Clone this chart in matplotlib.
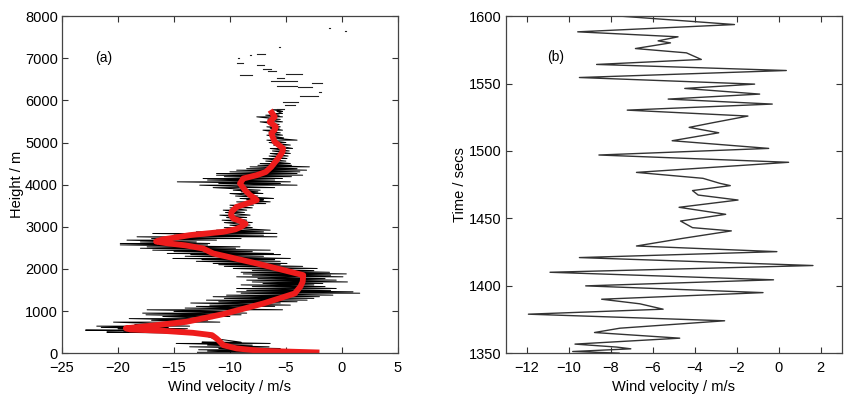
import numpy as np
import matplotlib.pyplot as plt

plt.rcParams['font.family'] = ['Liberation Sans', 'DejaVu Sans']

# (a) raw sounding: for each height row, left and right extent of the spike
row_h = [20, 50, 80, 110, 150, 190, 230, 260, 350, 440, 480,
         500, 530, 546, 580, 610, 641, 680, 736, 780, 820, 870, 910, 950, 990,
         1029, 1070, 1110, 1140, 1190, 1220, 1258, 1300, 1340, 1377, 1423, 1456,
         1490, 1535, 1580, 1620, 1654, 1690, 1733, 1770, 1812, 1850, 1881, 1920,
         1960, 2010, 2060, 2100, 2129, 2180, 2220, 2248, 2300, 2340, 2367, 2410,
         2445, 2490, 2524, 2570, 2604, 2640, 2683, 2720, 2762, 2800, 2841, 2880,
         2920, 2980, 3039, 3100, 3157, 3220, 3276, 3340, 3395, 3450, 3513, 3550,
         3592, 3640, 3672, 3730, 3790, 3830, 3869, 3930, 3988, 4030, 4067, 4110,
         4146, 4190, 4225, 4265, 4304, 4344, 4380, 4423, 4460, 4502, 4560, 4620,
         4680, 4741, 4800, 4860, 4940, 5000, 5057, 5110, 5175, 5230, 5294, 5340,
         5373, 5430, 5491, 5550, 5610, 5650, 5689, 5740, 5780]
row_left = [-12.9, -12.0, -12.8, -11.0, -13.6, -12.0, -14.8, -12.5, -11.5, -12.5, -16.0,
            -21.0, -19.5, -22.9, -20.0, -21.5, -21.9, -18.5, -20.4, -17.0, -19.0, -16.0, -17.5, -17.8, -15.0,
            -17.4, -14.0, -13.0, -11.8, -13.5, -11.0, -12.1, -10.5, -11.5, -10.3, -9.0, -9.4,
            -8.5, -9.4, -8.0, -9.0, -7.05, -8.0, -8.5, -7.5, -9.4, -8.0, -8.8, -9.0,
            -8.0, -9.7, -10.5, -11.0, -11.5, -13.0, -12.5, -15.1, -14.0, -13.5, -15.6, -15.0,
            -16.9, -18.0, -17.4, -19.8, -19.8, -18.0, -19.2, -17.0, -18.3, -15.0, -16.9, -13.0,
            -11.2, -10.5, -10.0, -10.5, -10.7, -10.3, -10.9, -10.4, -10.6, -10.0, -10.0, -9.0,
            -9.4, -8.5, -9.1, -9.5, -10.0, -9.0, -9.7, -11.5, -12.7, -11.0, -14.7, -12.0,
            -12.4, -10.5, -11.2, -11.2, -10.0, -9.4, -8.5, -8.2, -7.5, -7.3, -6.8, -7.05,
            -6.5, -6.4, -6.2, -6.4, -6.1, -6.5, -6.7, -6.3, -6.7, -6.5, -7.05, -6.4,
            -6.7, -6.5, -7.3, -6.6, -7.6, -6.8, -6.4, -5.8, -6.2]
row_right = [-7.9, -4.6, -6.0, -5.5, -6.5, -8.0, -6.4, -9.0, -11.5, -12.5, -16.0,
             -15.0, -14.5, -14.0, -13.8, -15.5, -13.6, -14.5, -10.9, -12.0, -11.5, -10.0, -9.0, -8.5, -9.5,
             -5.3, -8.0, -6.0, -4.6, -5.5, -4.0, -3.1, -2.5, -2.0, -0.8, 1.6, 1.0,
             -1.0, -0.5, -1.5, -2.5, -1.7, 0.5, -0.5, -1.5, 0.1, -1.0, 0.4, -1.1,
             -2.5, -2.2, -3.5, -5.5, -4.9, -5.5, -6.0, -4.6, -7.0, -5.5, -6.1, -8.0,
             -6.4, -9.5, -9.1, -12.0, -11.8, -13.0, -11.2, -9.0, -5.8, -7.0, -5.8, -7.0,
             -6.4, -8.0, -8.2, -8.0, -8.5, -8.5, -8.2, -8.7, -8.5, -8.0, -7.9, -6.8,
             -6.4, -7.0, -6.1, -7.5, -7.05, -7.5, -7.3, -6.0, -4.0, -5.5, -4.6, -6.0,
             -5.3, -4.5, -3.5, -4.0, -3.75, -3.15, -4.0, -2.9, -4.5, -4.6, -5.0, -4.9,
             -4.8, -4.6, -4.7, -4.4, -4.6, -5.0, -4.0, -5.2, -5.3, -5.5, -5.3, -5.6,
             -5.5, -5.6, -5.3, -5.5, -5.3, -5.6, -5.3, -5.3, -5.5]

# sparse readings above ~5800 m (short dashes)
dash_h = [5800, 5880, 5959, 6101, 6196, 6315, 6354, 6402, 6457, 6535, 6592,
          6616, 6695, 6735, 6830, 6892, 6996, 7067, 7106, 7272, 7660, 7723]
dash_left = [-5.8, -5.1, -5.3, -3.75, -2.0, -3.9, -5.8, -2.7, -6.3, -5.8, -9.1,
             -5.0, -6.6, -7.05, -7.6, -9.4, -9.25, -8.25, -7.56, -5.65, 0.28, -1.12]
dash_right = [-5.2, -4.2, -3.9, -2.1, -1.9, -2.7, -4.05, -1.8, -4.05, -5.2, -8.0,
              -3.6, -5.9, -6.3, -7.0, -8.8, -9.15, -8.15, -6.88, -5.55, 0.38, -1.02]

# (a) smoothed profile
red_h = [15, 55, 111, 190, 300, 348, 427, 482, 530, 562, 590, 641, 743, 926,
         1180, 1417, 1580, 1693, 1852, 1930, 2129, 2367, 2485, 2560, 2604, 2650,
         2700, 2740, 2801, 2880, 2940, 2999, 3070, 3118, 3197, 3280, 3355, 3473,
         3560, 3632, 3700, 3751, 3870, 4028, 4147, 4226, 4300, 4423, 4622, 4780,
         4860, 5016, 5215, 5300, 5373, 5491, 5610, 5728, 5770]
red_v = [-2.0, -7.3, -9.4, -10.6, -11.0, -11.2, -11.6, -13.3, -16.0, -18.9, -19.3,
         -17.4, -13.9, -10.6, -7.0, -4.2, -3.7, -3.5, -3.45, -4.6, -7.6, -11.5,
         -12.4, -14.0, -15.5, -16.6, -16.0, -15.0, -13.6, -10.6, -9.5, -9.0, -8.6,
         -8.9, -9.7, -9.9, -9.85, -9.4, -8.4, -7.6, -7.9, -8.2, -8.65, -9.1, -8.8,
         -7.6, -6.8, -6.3, -5.7, -5.3, -5.25, -6.0, -6.3, -6.0, -5.9, -6.45, -6.0,
         -6.3, -6.4]

# (b) time series turning points
t_b = [1600, 1593.8, 1588.4, 1584.7, 1581.7, 1580.2, 1576, 1572.8, 1567.9, 1564.2,
       1559.7, 1554.5, 1549.6, 1546.4, 1542.2, 1538.5, 1534.8, 1530.3, 1525.9,
       1521, 1517.5, 1513.5, 1507.6, 1501.9, 1497, 1491.6, 1484.1, 1479.7, 1476,
       1474.3, 1470.6, 1467.3, 1463.6, 1458.2, 1453, 1448, 1443.1, 1440.7, 1435.2,
       1429.5, 1425.3, 1420.9, 1415, 1410, 1404.4, 1399.9, 1394.9, 1390, 1386.6,
       1382.6, 1378.9, 1374, 1368.5, 1365.3, 1361.1, 1356.7, 1354.5, 1353.2,
       1351.2, 1350]
v_b = [-7.5, -2.1, -9.57, -4.79, -5.74, -5.15, -6.82, -4.39, -3.68, -8.67,
       0.37, -9.49, -1.14, -4.47, -0.9, -5.26, -0.3, -7.21, -1.46,
       -3.12, -4.26, -2.85, -5.07, -0.47, -8.56, 0.48, -6.77, -3.6, -2.8,
       -2.3, -4.1, -3.83, -1.93, -4.74, -2.52, -4.67, -4.1, -2.25, -4.55,
       -6.77, -0.08, -9.49, 1.64, -10.89, -0.24, -9.19, -0.74, -8.43, -6.61,
       -5.5, -11.92, -2.57, -7.56, -8.77, -4.71, -9.7, -7.72, -7.04,
       -9.81, -7.6]

fig = plt.figure(figsize=(8.5, 3.95), dpi=100)
ax1 = fig.add_axes([0.073, 0.106, 0.395, 0.853])
ax2 = fig.add_axes([0.595, 0.106, 0.395, 0.853])

# zigzag through the spikes
zx = np.column_stack([row_left, row_right]).ravel()
zy = np.repeat(row_h, 2)
ax1.plot(zx, zy, color='black', lw=0.7)
for h, a, b in zip(dash_h, dash_left, dash_right):
    ax1.plot([a, b], [h, h], color='#222222', lw=0.8)
ax1.plot(red_v, red_h, color='#ee1c1c', lw=4.2, solid_capstyle='butt')

ax1.set_xlim(-25, 5)
ax1.set_ylim(0, 8000)
ax1.set_xticks(np.arange(-25, 6, 5))
ax1.set_yticks(np.arange(0, 8001, 1000))
ax1.set_xlabel('Wind velocity / m/s', fontsize=10.5, labelpad=3)
ax1.set_ylabel('Height / m', fontsize=10.5, labelpad=1)
ax1.text(-21.3, 7000, '(a)', fontsize=10, ha='center', va='center')

ax2.plot(v_b, t_b, color='#333333', lw=1.0)
ax2.set_xlim(-13, 3)
ax2.set_ylim(1350, 1600)
ax2.set_xticks(np.arange(-12, 3, 2))
ax2.set_yticks(np.arange(1350, 1601, 50))
ax2.set_xlabel('Wind velocity / m/s', fontsize=10.5, labelpad=3)
ax2.set_ylabel('Time / secs', fontsize=10.5, labelpad=1)
ax2.text(-10.6, 1569.5, '(b)', fontsize=10, ha='center', va='center')

for ax in (ax1, ax2):
    ax.tick_params(direction='in', top=True, right=True, length=4,
                   width=0.8, labelsize=10.5, color='#333333')
    ax.tick_params(axis='x', pad=6)
    ax.tick_params(axis='y', pad=3)
    for s in ax.spines.values():
        s.set_color('#444444')
        s.set_linewidth(0.9)

fig.savefig('out.png', dpi=100)
